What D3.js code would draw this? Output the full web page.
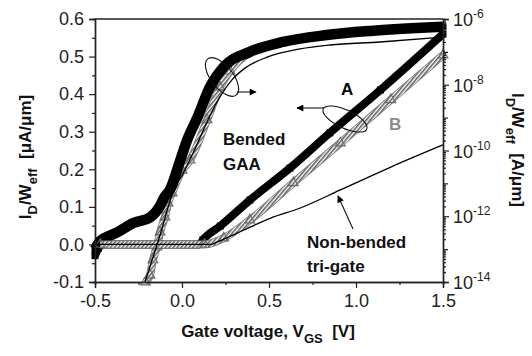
<!DOCTYPE html>
<html>
<head>
<meta charset="utf-8">
<script src="https://cdn.jsdelivr.net/npm/d3@7"></script>
<style>
  body { margin: 0; background: #fff; }
  text { font-family: "Liberation Sans", Arial, sans-serif; }
</style>
</head>
<body>
<div id="chart"></div>
<script>
// Data
// Bended GAA, device A (black squares)
const vgA_log = [-0.5, -0.47, -0.42, -0.37, -0.28, -0.18, -0.13, -0.10, -0.07, -0.01, 0.03, 0.09, 0.16, 0.24, 0.39, 0.58, 0.82, 1.1, 1.5]
const idA_log = [1.0e-13, 1.8e-13, 2.5e-13, 3.3e-13, 6.2e-13, 9.5e-13, 1.9e-12, 3.9e-12, 6.3e-12, 5.1e-11, 2.1e-10, 1.05e-9, 8.5e-9, 3.5e-8, 1.0e-7, 2.0e-7, 3.2e-7, 4.4e-7, 5.8e-7]
const vgA_lin = [-0.5, -0.48, -0.45, 0.10, 0.12, 0.22, 0.39, 0.62, 0.85, 1.14, 1.5]
const idA_lin = [-0.03, -0.01, 0.0, 0.0, 0.012, 0.049, 0.118, 0.203, 0.297, 0.411, 0.56]

// Bended GAA, device B (grey triangles)
const vgB_log = [-0.21, -0.184, -0.167, -0.144, -0.126, -0.098, -0.08, -0.057, 0.0, 0.046, 0.144, 0.218, 0.276, 0.39, 0.58, 0.82, 1.1, 1.5]
const idB_log = [1.0e-14, 1.6e-14, 4.7e-14, 1.15e-13, 3.3e-13, 9.5e-13, 2.5e-12, 5.1e-12, 2.5e-11, 5.1e-11, 8.5e-10, 8.5e-9, 2.6e-8, 9.5e-8, 1.95e-7, 3.15e-7, 4.35e-7, 5.7e-7]
const vgB_lin = [-0.47, 0.13, 0.24, 0.39, 0.64, 0.91, 1.2, 1.5]
const idB_lin = [0.0, 0.0, 0.017, 0.065, 0.164, 0.27, 0.385, 0.504]

// Non-bended tri-gate (thin line)
const vgT_log = [-0.213, -0.126, -0.057, 0.017, 0.086, 0.149, 0.218, 0.287, 0.362, 0.489, 0.678, 0.851, 1.138, 1.5]
const idT_log = [1.0e-14, 2.7e-13, 4.5e-12, 2.6e-11, 1.5e-10, 8.5e-10, 4.3e-9, 1.4e-8, 3.2e-8, 6.9e-8, 1.23e-7, 1.62e-7, 2.0e-7, 2.8e-7]
const vgT_lin = [-0.5, 0.17, 0.19, 0.33, 0.51, 0.68, 0.91, 1.2, 1.5]
const idT_lin = [0.0, 0.0, 0.004, 0.033, 0.070, 0.097, 0.145, 0.206, 0.265]

// Tick labels
const xTicks = [-0.5, 0.0, 0.5, 1.0, 1.5]
const yLinTicks = [-0.1, 0.0, 0.1, 0.2, 0.3, 0.4, 0.5, 0.6]
const yLogExp = [-14, -12, -10, -8, -6]

const zip = (xs, ys) => xs.map((v, i) => [v, ys[i]])

// Dimension
const dimension = {
    width: 532,
    height: 356,
    margin: { top: 19, bottom: 74, left: 95, right: 89 }
}
dimension.ctrwidth = dimension.width - dimension.margin.left - dimension.margin.right
dimension.ctrheight = dimension.height - dimension.margin.top - dimension.margin.bottom

const svg = d3.select('#chart')
    .append('svg')
    .attr('width', dimension.width)
    .attr('height', dimension.height)
    .style('background', '#fff')

const defs = svg.append('defs')
const hatch = defs.append('pattern')
    .attr('id', 'hatch')
    .attr('patternUnits', 'userSpaceOnUse')
    .attr('width', 3).attr('height', 3)
    .attr('patternTransform', 'rotate(40)')
hatch.append('rect').attr('width', 3).attr('height', 3).attr('fill', '#fff')
hatch.append('line').attr('x1', 0.8).attr('y1', 0).attr('x2', 0.8).attr('y2', 3)
    .attr('stroke', '#555').attr('stroke-width', 1.5)

defs.append('marker')
    .attr('id', 'arrow')
    .attr('viewBox', '0 0 10 10')
    .attr('refX', 9).attr('refY', 5)
    .attr('markerWidth', 9).attr('markerHeight', 7)
    .attr('markerUnits', 'userSpaceOnUse')
    .attr('orient', 'auto')
    .append('path').attr('d', 'M0,0 L10,5 L0,10 z').attr('fill', '#000')

// Scales
const xScale = d3.scaleLinear()
    .domain([-0.5, 1.5])
    .range([dimension.margin.left, dimension.margin.left + dimension.ctrwidth])

const yLin = d3.scaleLinear()
    .domain([-0.1, 0.6])
    .range([dimension.margin.top + dimension.ctrheight, dimension.margin.top])

const yLog = d3.scaleLog()
    .domain([1e-14, 1e-6])
    .range([dimension.margin.top + dimension.ctrheight, dimension.margin.top])

const lineLin = d3.line().x(d => xScale(d[0])).y(d => yLin(d[1])).curve(d3.curveMonotoneX)
const lineLog = d3.line().x(d => xScale(d[0])).y(d => yLog(d[1])).curve(d3.curveMonotoneX)

const plot = svg.append('g')

function squares(data, yS) {
    plot.append('g').selectAll('path')
        .data(data)
        .join('path')
        .attr('d', d3.symbol(d3.symbolSquare, 49))
        .attr('transform', d => `translate(${xScale(d[0])},${yS(d[1])})`)
        .attr('fill', '#000')
}

function triangles(data, yS) {
    plot.append('g').selectAll('path')
        .data(data)
        .join('path')
        .attr('d', d3.symbol(d3.symbolTriangle, 42))
        .attr('transform', d => `translate(${xScale(d[0])},${yS(d[1])})`)
        .attr('fill', 'none')
        .attr('stroke', '#6a6a6a')
        .attr('stroke-width', 1.1)
}

function band(data, lineGen) {
    plot.append('path').attr('d', lineGen(data))
        .attr('fill', 'none').attr('stroke', '#7a7a7a').attr('stroke-width', 8)
    plot.append('path').attr('d', lineGen(data))
        .attr('fill', 'none').attr('stroke', 'url(#hatch)').attr('stroke-width', 6.5)
}

function thick(data, lineGen, w) {
    plot.append('path').attr('d', lineGen(data))
        .attr('fill', 'none').attr('stroke', '#000').attr('stroke-width', w)
}

function thin(data, lineGen) {
    plot.append('path').attr('d', lineGen(data))
        .attr('fill', 'none').attr('stroke', '#000').attr('stroke-width', 1.3)
}

// B log (under A log)
const bLog = zip(vgB_log, idB_log)
band(bLog, lineLog)
triangles(bLog.filter(d => d[0] < 0.3), yLog)

// A log
const aLog = zip(vgA_log, idA_log)
thick(aLog, lineLog, 10.5)
squares(aLog, yLog)

// A linear
const aLin = zip(vgA_lin, idA_lin)
thick(aLin, lineLin, 8)
squares(aLin, yLin)

// B linear
const bLin = zip(vgB_lin, idB_lin)
band(bLin, lineLin)
triangles(bLin, yLin)

// Tri-gate
thin(zip(vgT_log, idT_log), lineLog)
thin(zip(vgT_lin, idT_lin), lineLin)

// Axes
const axisColor = '#222'
const bottomY = dimension.margin.top + dimension.ctrheight
const rightX = dimension.margin.left + dimension.ctrwidth

function styleAxis(g) {
    g.select('.domain').attr('stroke', axisColor).attr('stroke-width', 1.4)
    g.selectAll('.tick line').attr('stroke', axisColor).attr('stroke-width', 1.2)
    g.selectAll('.tick text').attr('fill', '#222')
        .style('font-size', '18px')
        .style('font-family', '"Liberation Sans", Arial, sans-serif')
}

// left
svg.append('g')
    .attr('transform', `translate(${dimension.margin.left},0)`)
    .call(d3.axisLeft(yLin).tickValues(d3.range(-0.05, 0.6, 0.1)).tickSize(3).tickFormat(''))
    .call(styleAxis)
svg.append('g')
    .attr('transform', `translate(${dimension.margin.left},0)`)
    .call(d3.axisLeft(yLin).tickValues(yLinTicks).tickSize(6).tickPadding(5).tickFormat(d => d.toFixed(1)))
    .call(styleAxis)

// bottom
svg.append('g')
    .attr('transform', `translate(0,${bottomY})`)
    .call(d3.axisBottom(xScale).tickValues([-0.25, 0.25, 0.75, 1.25]).tickSize(3).tickFormat(''))
    .call(styleAxis)
svg.append('g')
    .attr('transform', `translate(0,${bottomY})`)
    .call(d3.axisBottom(xScale).tickValues(xTicks).tickSize(6).tickPadding(6).tickFormat(d => d.toFixed(1)))
    .call(styleAxis)

// right (log)
const minorLog = []
for (let e = -14; e < -6; e++) {
    for (let k = 1; k < 10; k++) {
        if (k === 1 && e % 2 === 0) continue
        minorLog.push(k * Math.pow(10, e))
    }
}
svg.append('g')
    .attr('transform', `translate(${rightX},0)`)
    .call(d3.axisRight(yLog).tickValues(minorLog).tickSize(3).tickFormat(''))
    .call(styleAxis)
    .selectAll('.tick line').attr('x2', d => Math.abs(Math.log10(d) - Math.round(Math.log10(d))) < 1e-6 ? 5 : 3)
svg.append('g')
    .attr('transform', `translate(${rightX},0)`)
    .call(d3.axisRight(yLog).tickValues(yLogExp.map(e => Math.pow(10, e))).tickSize(6).tickFormat(''))
    .call(styleAxis)

const rLabels = svg.append('g')
yLogExp.forEach(e => {
    const t = rLabels.append('text')
        .attr('x', rightX + 10)
        .attr('y', yLog(Math.pow(10, e)) + 7)
        .attr('fill', '#222')
        .style('font-size', '18px')
    t.append('tspan').text('10')
    t.append('tspan').attr('dy', -8).style('font-size', '12px').text(String(e))
})

// top border
svg.append('line')
    .attr('x1', dimension.margin.left).attr('x2', rightX)
    .attr('y1', dimension.margin.top).attr('y2', dimension.margin.top)
    .attr('stroke', axisColor).attr('stroke-width', 1.6)

// Axis titles
const xTitle = svg.append('text')
    .attr('x', 268).attr('y', 337)
    .attr('text-anchor', 'middle')
    .style('font-size', '17px').style('font-weight', 'bold').attr('fill', '#111')
xTitle.append('tspan').text('Gate voltage, V')
xTitle.append('tspan').attr('dy', 6).style('font-size', '13px').text('GS')
xTitle.append('tspan').attr('dy', -6).text('\u00a0 [V]')

const yTitle = svg.append('text')
    .attr('transform', 'translate(31,157) rotate(-90)')
    .attr('text-anchor', 'middle')
    .style('font-size', '17px').style('font-weight', 'bold').attr('fill', '#111')
yTitle.append('tspan').text('I')
yTitle.append('tspan').attr('dy', 6).style('font-size', '13px').text('D')
yTitle.append('tspan').attr('dy', -6).text('/W')
yTitle.append('tspan').attr('dy', 6).style('font-size', '13px').text('eff')
yTitle.append('tspan').attr('dy', -6).text('\u00a0 [\u03bcA/\u03bcm]')

const y2Title = svg.append('text')
    .attr('transform', 'translate(512,150) rotate(90)')
    .attr('text-anchor', 'middle')
    .style('font-size', '17px').style('font-weight', 'bold').attr('fill', '#111')
y2Title.append('tspan').text('I')
y2Title.append('tspan').attr('dy', 6).style('font-size', '13px').text('D')
y2Title.append('tspan').attr('dy', -6).text('/W')
y2Title.append('tspan').attr('dy', 6).style('font-size', '13px').text('eff')
y2Title.append('tspan').attr('dy', -6).text('\u00a0 [A/\u03bcm]')

// Annotations
const ann = svg.append('g')
ann.append('ellipse')
    .attr('cx', 222).attr('cy', 77).attr('rx', 23).attr('ry', 11)
    .attr('transform', 'rotate(52,222,77)')
    .attr('fill', 'none').attr('stroke', '#111').attr('stroke-width', 1.1)
ann.append('line')
    .attr('x1', 237).attr('y1', 92).attr('x2', 256).attr('y2', 92)
    .attr('stroke', '#111').attr('stroke-width', 1.1).attr('marker-end', 'url(#arrow)')

ann.append('ellipse')
    .attr('cx', 345).attr('cy', 119).attr('rx', 24).attr('ry', 9)
    .attr('transform', 'rotate(25,345,119)')
    .attr('fill', 'none').attr('stroke', '#111').attr('stroke-width', 1.1)
ann.append('line')
    .attr('x1', 324).attr('y1', 108).attr('x2', 297).attr('y2', 108)
    .attr('stroke', '#111').attr('stroke-width', 1.1).attr('marker-end', 'url(#arrow)')

ann.append('line')
    .attr('x1', 353).attr('y1', 229).attr('x2', 338).attr('y2', 196)
    .attr('stroke', '#111').attr('stroke-width', 1.1).attr('marker-end', 'url(#arrow)')

const label = (x, y, txt, color) => ann.append('text')
    .attr('x', x).attr('y', y).text(txt)
    .attr('fill', color)
    .style('font-size', '17px').style('font-weight', 'bold')

label(341, 95, 'A', '#000')
label(389, 130, 'B', '#8a8a8a')
label(223, 145, 'Bended', '#111')
label(223, 170, 'GAA', '#111')
label(307, 248, 'Non-bended', '#111')
label(307, 272, 'tri-gate', '#111')
</script>
</body>
</html>
